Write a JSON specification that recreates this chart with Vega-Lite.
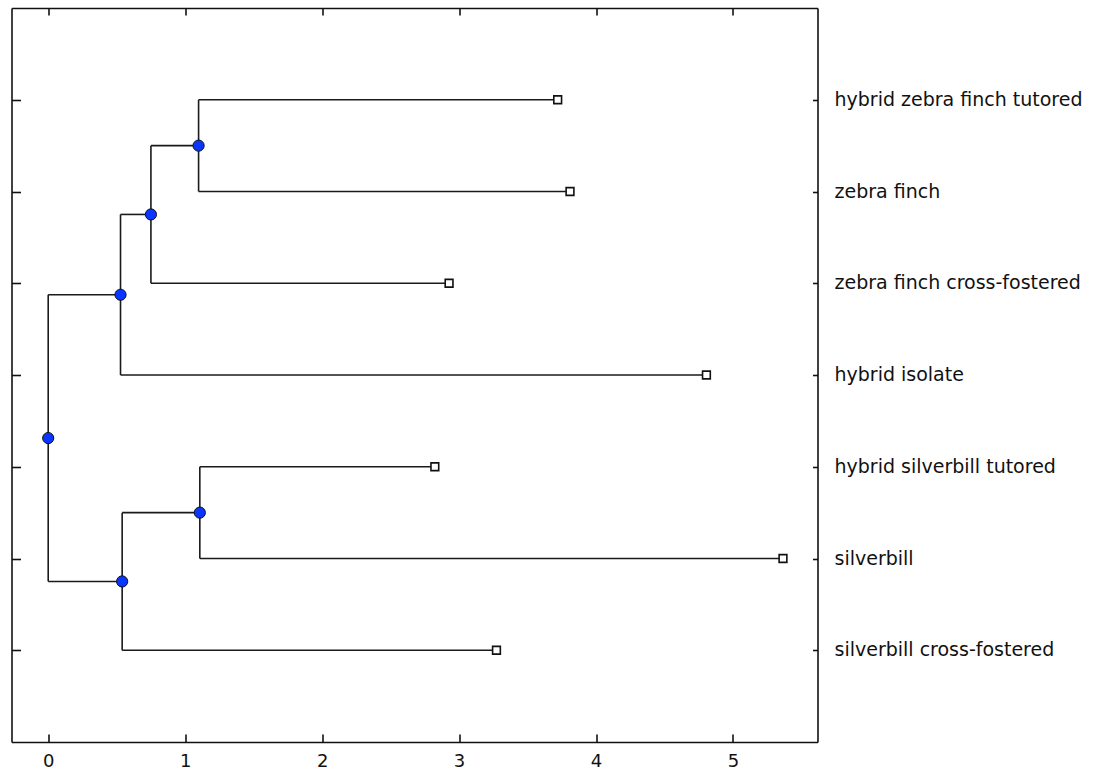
{
  "$schema": "https://vega.github.io/schema/vega-lite/v6.json",
  "width": 806,
  "height": 734,
  "autosize": {"type": "none"},
  "padding": {"left": 11.5, "top": 8, "right": 284.5, "bottom": 32},
  "background": "white",
  "config": {
    "view": {"stroke": null},
    "axis": {
      "domainColor": "#111",
      "domainWidth": 1.6,
      "tickColor": "#111",
      "tickWidth": 1.6,
      "grid": false,
      "title": null,
      "labelFont": "DejaVu Sans",
      "labelFontSize": 18,
      "labelColor": "#111"
    }
  },
  "datasets": {
    "edges": [
      {"px": 1.098, "py": 1.5, "cx": 3.72, "cy": 1},
      {"px": 1.098, "py": 1.5, "cx": 3.81, "cy": 2},
      {"px": 0.75, "py": 2.25, "cx": 1.098, "cy": 1.5},
      {"px": 0.75, "py": 2.25, "cx": 2.927, "cy": 3},
      {"px": 0.528, "py": 3.125, "cx": 0.75, "cy": 2.25},
      {"px": 0.528, "py": 3.125, "cx": 4.806, "cy": 4},
      {"px": 1.107, "py": 5.5, "cx": 2.823, "cy": 5},
      {"px": 1.107, "py": 5.5, "cx": 5.365, "cy": 6},
      {"px": 0.54, "py": 6.25, "cx": 1.107, "cy": 5.5},
      {"px": 0.54, "py": 6.25, "cx": 3.273, "cy": 7},
      {"px": 0, "py": 4.6875, "cx": 0.528, "cy": 3.125},
      {"px": 0, "py": 4.6875, "cx": 0.54, "cy": 6.25}
    ],
    "nodes": [
      {"dist": 1.098, "pos": 1.5},
      {"dist": 0.75, "pos": 2.25},
      {"dist": 0.528, "pos": 3.125},
      {"dist": 1.107, "pos": 5.5},
      {"dist": 0.54, "pos": 6.25},
      {"dist": 0, "pos": 4.6875}
    ],
    "leaves": [
      {"name": "hybrid zebra finch tutored", "dist": 3.72, "pos": 1},
      {"name": "zebra finch", "dist": 3.81, "pos": 2},
      {"name": "zebra finch cross-fostered", "dist": 2.927, "pos": 3},
      {"name": "hybrid isolate", "dist": 4.806, "pos": 4},
      {"name": "hybrid silverbill tutored", "dist": 2.823, "pos": 5},
      {"name": "silverbill", "dist": 5.365, "pos": 6},
      {"name": "silverbill cross-fostered", "dist": 3.273, "pos": 7}
    ]
  },
  "layer": [
    {
      "data": {"name": "edges"},
      "mark": {"type": "rule", "color": "#1a1a1a", "strokeWidth": 1.6},
      "encoding": {
        "x": {"field": "px", "type": "quantitative", "scale": {"domain": [-0.268, 5.617], "nice": false, "zero": false},
              "axis": {"orient": "bottom", "values": [0, 1, 2, 3, 4, 5], "tickSize": -8, "labelPadding": 18, "labelFlush": false}},
        "x2": {"field": "cx"},
        "y": {"field": "cy", "type": "quantitative", "scale": {"domain": [0, 8], "reverse": true, "nice": false, "zero": false},
              "axis": {"orient": "left", "values": [1, 2, 3, 4, 5, 6, 7], "tickSize": -9, "labels": false}}
      }
    },
    {
      "data": {"name": "edges"},
      "mark": {"type": "rule", "color": "#1a1a1a", "strokeWidth": 1.6},
      "encoding": {
        "x": {"field": "px", "type": "quantitative",
              "axis": {"orient": "top", "values": [0, 1, 2, 3, 4, 5], "tickSize": -7, "labels": false}},
        "y": {"field": "py", "type": "quantitative",
              "axis": {"orient": "right", "values": [1, 2, 3, 4, 5, 6, 7], "tickSize": -5, "labels": false}},
        "y2": {"field": "cy"}
      }
    },
    {
      "data": {"name": "nodes"},
      "mark": {"type": "point", "shape": "circle", "filled": true, "fill": "#0836ff", "stroke": "#111", "strokeWidth": 1, "size": 125, "opacity": 1},
      "encoding": {
        "x": {"field": "dist", "type": "quantitative", "axis": null},
        "y": {"field": "pos", "type": "quantitative", "axis": null}
      }
    },
    {
      "data": {"name": "leaves"},
      "mark": {"type": "point", "shape": "square", "fill": "white", "stroke": "#111", "strokeWidth": 1.6, "size": 60, "opacity": 1},
      "encoding": {
        "x": {"field": "dist", "type": "quantitative", "axis": null},
        "y": {"field": "pos", "type": "quantitative", "axis": null}
      }
    },
    {
      "data": {"name": "leaves"},
      "mark": {"type": "text", "align": "left", "baseline": "middle", "dx": 17, "font": "DejaVu Sans", "fontSize": 19, "color": "#111", "clip": false},
      "encoding": {
        "x": {"datum": 5.617, "type": "quantitative", "axis": null},
        "y": {"field": "pos", "type": "quantitative", "axis": null},
        "text": {"field": "name"}
      }
    }
  ],
  "resolve": {"axis": {"x": "independent", "y": "independent"}}
}
